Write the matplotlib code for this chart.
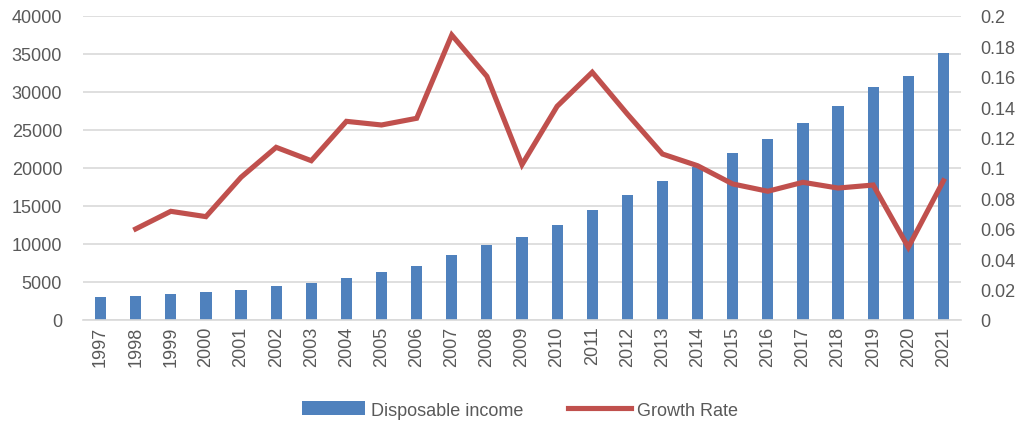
import matplotlib.pyplot as plt
import numpy as np

years = [str(y) for y in range(1997, 2022)]
income = [2990, 3200, 3420, 3640, 3990, 4470, 4910, 5570, 6320, 7150,
          8510, 9910, 10880, 12460, 14520, 16450, 18290, 20090, 21930,
          23770, 25920, 28200, 30700, 32150, 35130]
growth = [np.nan, 0.0599, 0.0715, 0.068, 0.0939, 0.1136, 0.1048, 0.1307,
          0.1283, 0.1327, 0.1875, 0.1603, 0.1022, 0.1406, 0.163, 0.1355,
          0.1092, 0.1015, 0.0895, 0.0847, 0.0906, 0.0868, 0.0888, 0.0478,
          0.0916]

plt.rcParams['font.family'] = ['Liberation Sans', 'DejaVu Sans']
txt = '#595959'

fig = plt.figure(figsize=(10.22, 4.27), dpi=100)
ax1 = fig.add_axes([83 / 1022, 1 - 321 / 427, (961 - 83) / 1022, (321 - 17) / 427])
ax2 = ax1.twinx()

x = np.arange(len(years))
ax1.bar(x, income, width=0.32, color='#4F81BD', label='Disposable income', zorder=2)
ax2.plot(x, growth, color='#C0504D', lw=3.7, label='Growth Rate',
         solid_joinstyle='miter', zorder=3)

ax1.set_xlim(-0.5, len(years) - 0.5)
ax1.set_ylim(0, 40000)
ax2.set_ylim(0, 0.2)
ax1.set_yticks(np.arange(0, 40001, 5000))
ax2.set_yticks(np.arange(0, 0.201, 0.02))
ax2.set_yticklabels(['0'] + ['%g' % v for v in np.arange(0.02, 0.201, 0.02)])
ax1.set_xticks(x)
ax1.set_xticklabels(years, rotation=90)

ax1.grid(axis='y', color='#D9D9D9', lw=1.2, zorder=0)
ax1.set_axisbelow(True)
for ax in (ax1, ax2):
    for s in ax.spines.values():
        s.set_visible(False)
    ax.tick_params(length=0, labelsize=13, colors=txt)
ax1.spines['bottom'].set_visible(True)
ax1.spines['bottom'].set_color('#D9D9D9')
ax1.spines['bottom'].set_linewidth(1.2)
ax1.tick_params(axis='y', pad=15)
ax1.tick_params(axis='x', pad=4)
ax2.tick_params(axis='y', pad=14)

h1, l1 = ax1.get_legend_handles_labels()
h2, l2 = ax2.get_legend_handles_labels()
fig.legend(h1 + h2, l1 + l2, loc='center', bbox_to_anchor=(520 / 1022, 1 - 411 / 427),
           ncol=2, frameon=False, fontsize=13, labelcolor=txt,
           handlelength=3.5, handleheight=0.8, columnspacing=2.5, handletextpad=0.3)

fig.savefig('out.png', dpi=100)
